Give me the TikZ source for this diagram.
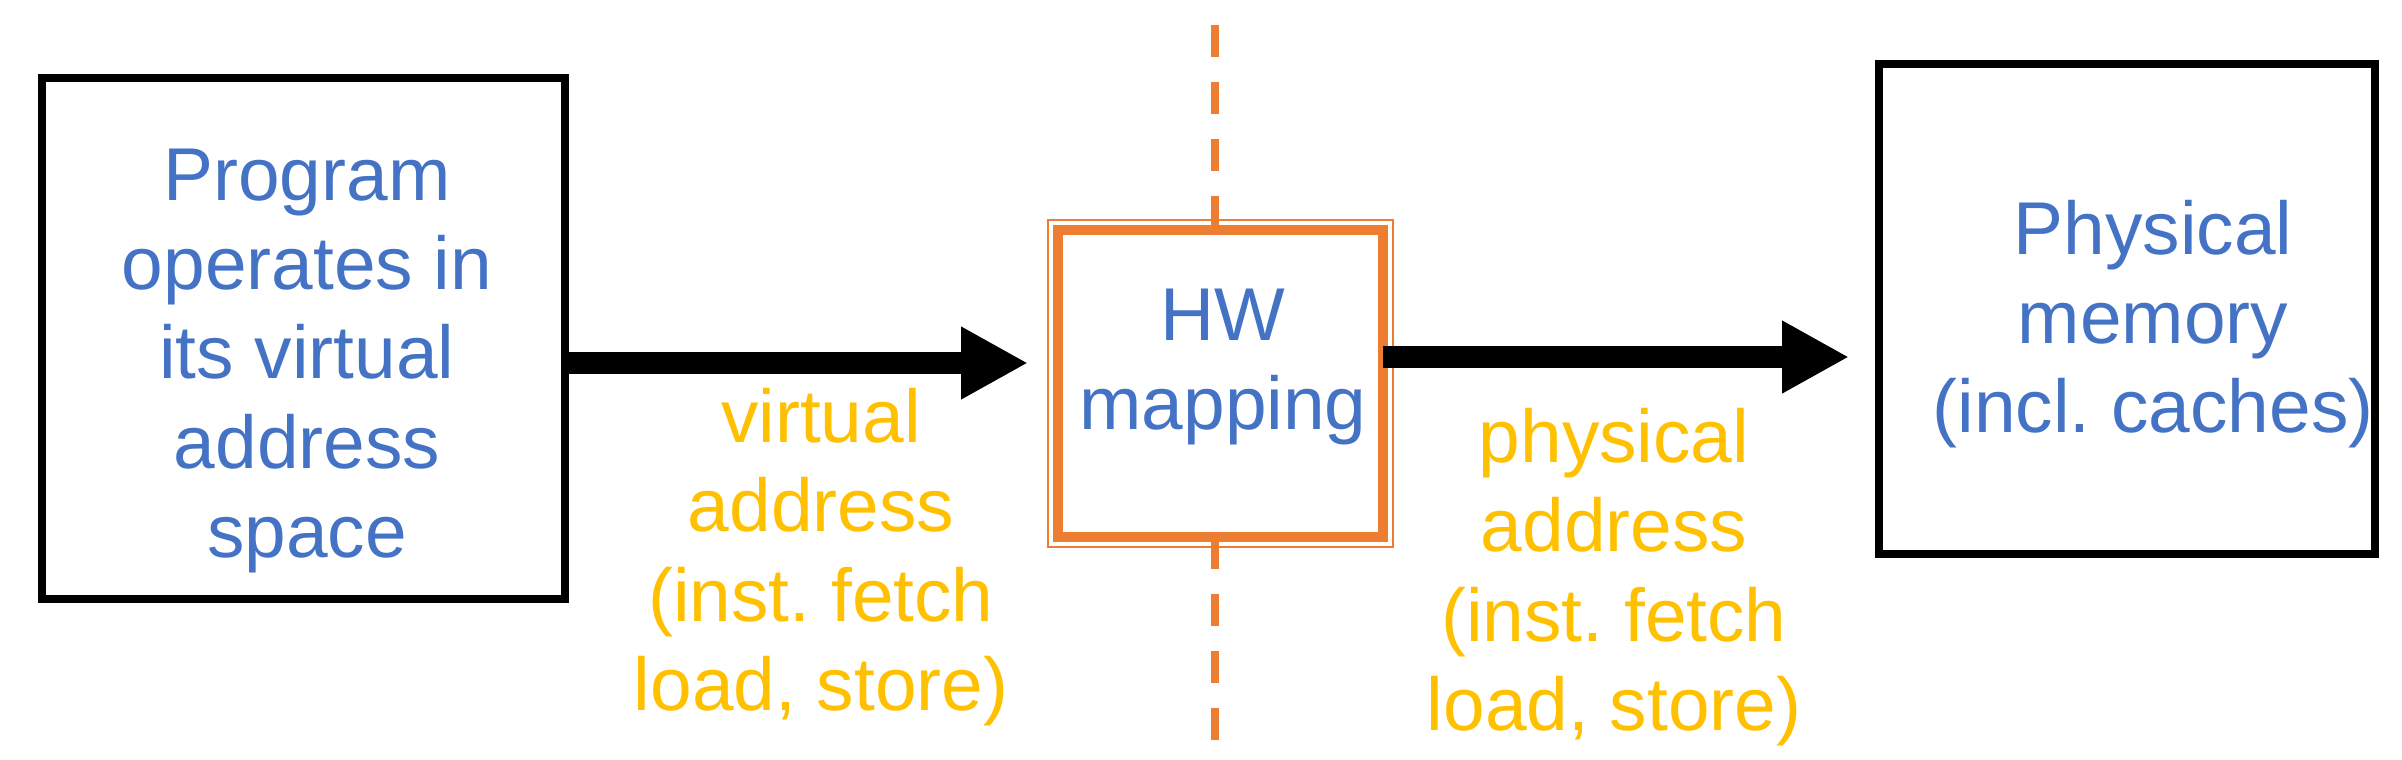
\documentclass[tikz,border=0pt]{standalone}
\usepackage{fontspec}
\setmainfont{Liberation Sans}
\frenchspacing
\usetikzlibrary{arrows.meta,positioning}
\definecolor{txtblue}{HTML}{4472C4}
\definecolor{lblgold}{HTML}{FFC000}
\definecolor{hworange}{HTML}{ED7D31}
\tikzset{
    big text/.style={font=\fontsize{21.3}{25.4}\selectfont, align=center, inner sep=0pt},
    box text/.style={big text, text=txtblue},
    addr text/.style={big text, text=lblgold},
    plain box/.style={draw, line width=2.28pt, outer sep=0pt},
    hw box/.style={draw=hworange, line width=2.85pt, fill=white, outer sep=0pt},
    hw rim/.style={draw=hworange, line width=0.57pt},
    cut line/.style={draw=hworange, line width=2.28pt, dash pattern=on 9.1pt off 7.1pt},
    fat arrow/.style={line width=6.24pt, -{Triangle[length=6.7mm,width=6.8mm]}}
}
\begin{document}
\begin{tikzpicture}
\useasboundingbox (0,0) rectangle (24.02,-7.59);
\coordinate (cuttop) at (12.15,-0.25);
\coordinate (cutbot) at (12.15,-7.41);
\draw[cut line] (cuttop) -- (cutbot);
\node[plain box, minimum width=5.235cm, minimum height=5.21cm] (prog) at (3.033,-3.385) {};
\node[hw box, minimum width=3.25cm, minimum height=3.07cm] (hw) at (12.205,-3.835) {};
\draw[hw rim] ([shift={(-1mm,1mm)}]hw.north west) rectangle ([shift={(1mm,-1mm)}]hw.south east);
\node[plain box, minimum width=4.955cm, minimum height=4.9cm] (mem) at (21.268,-3.09) {};
\node[box text] (progtxt) at (3.07,-3.61) {Program\\operates in\\its virtual\\address\\space};
\node[box text] (hwtxt) at (12.23,-3.67) {HW\\mapping};
\node[box text] (memtxt) at (21.53,-3.24) {Physical\\memory\\(incl. caches)};
\node[addr text] (vaddr) at (8.21,-5.57) {virtual\\address\\(inst. fetch\\load, store)};
\node[addr text] (paddr) at (16.14,-5.77) {physical\\address\\(inst. fetch\\load, store)};
\coordinate (vtip) at (10.28,-3.63);
\coordinate (ptip) at (18.49,-3.57);
\draw[fat arrow] (prog.east |- vtip) -- (vtip);
\draw[fat arrow] (hw.east |- ptip) -- (ptip);
\end{tikzpicture}
\end{document}
